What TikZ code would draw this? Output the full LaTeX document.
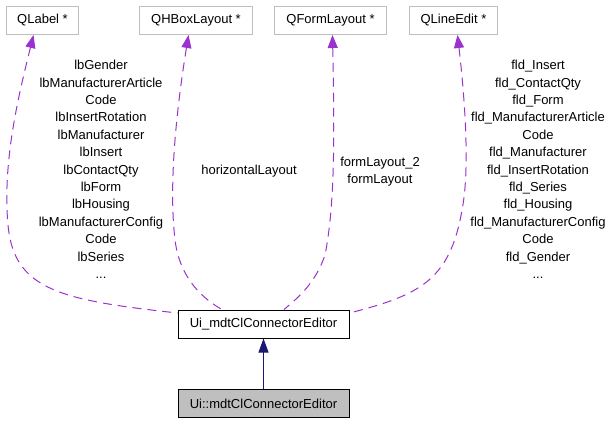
\documentclass[tikz,border=0pt]{standalone}
\usepackage{fontspec}
\setmainfont{Liberation Sans}
\usetikzlibrary{arrows.meta}
\definecolor{edgepurple}{HTML}{9A32CD}
\definecolor{boxgray}{HTML}{BFBFBF}
\definecolor{navyedge}{HTML}{191970}
\begin{document}
\begin{tikzpicture}[x=1pt,y=-1pt,
  every node/.style={font=\fontsize{13}{17.4}\selectfont, inner sep=0pt},
  extbox/.style={draw=boxgray, line width=1pt, minimum height=28pt, anchor=north west, fill=white},
  mainbox/.style={draw=black, line width=1pt, minimum height=28pt, minimum width=171pt},
  lbl/.style={align=center},
  useedge/.style={draw=edgepurple, line width=1pt, dash pattern=on 9pt off 6pt,
     {Triangle[length=13pt,width=10pt,fill=edgepurple]}-},
  inhedge/.style={draw=navyedge, line width=1pt, -{Triangle[length=14pt,width=10pt,fill=navyedge]}}]
\useasboundingbox (0,0) rectangle (609,424);

\node[extbox, minimum width=72pt] (ql) at (6,6) {QLabel *};
\node[extbox, minimum width=113pt] (qh) at (139,6) {QHBoxLayout *};
\node[extbox, minimum width=112pt] (qf) at (274,6) {QFormLayout *};
\node[extbox, minimum width=88pt] (qe) at (409,6) {QLineEdit *};

\node[mainbox, fill=white] (ui) at (263.5,324) {Ui\_mdtClConnectorEditor};
\node[mainbox, fill=boxgray] (uins) at (263.5,403.5) {Ui::mdtClConnectorEditor};

\draw[inhedge] (uins.north) -- (ui.south);

\draw[useedge] ([xshift=-9pt]ql.south) .. controls (20,90) and (2,160) .. (8,225)
   .. controls (14,290) and (60,300) .. ([yshift=11pt]ui.west);
\draw[useedge] ([xshift=-7.5pt]qh.south) .. controls (178,100) and (168,180) .. (175,240)
   .. controls (180,280) and (205,300) .. ([xshift=-41.5pt]ui.north);
\draw[useedge] ([xshift=2pt]qf.south) .. controls (334,120) and (336,200) .. (325,255)
   .. controls (315,285) and (295,300) .. ([xshift=20.5pt]ui.north);
\draw[useedge] ([xshift=4pt]qe.south) .. controls (465,100) and (470,170) .. (462,210)
   .. controls (450,280) and (420,295) .. ([yshift=11pt]ui.east);

\node[lbl, anchor=north] (lbl1) at (101,60) {lbGender\\lbManufacturerArticle\\Code\\lbInsertRotation\\lbManufacturer\\lbInsert\\lbContactQty\\lbForm\\lbHousing\\lbManufacturerConfig\\Code\\lbSeries\\...};
\node[lbl] (lbl2) at (249,171) {horizontalLayout};
\node[lbl] (lbl3) at (380,171.5) {formLayout\_2\\formLayout};
\node[lbl, anchor=north] (lbl4) at (538,60) {fld\_Insert\\fld\_ContactQty\\fld\_Form\\fld\_ManufacturerArticle\\Code\\fld\_Manufacturer\\fld\_InsertRotation\\fld\_Series\\fld\_Housing\\fld\_ManufacturerConfig\\Code\\fld\_Gender\\...};
\end{tikzpicture}
\end{document}
